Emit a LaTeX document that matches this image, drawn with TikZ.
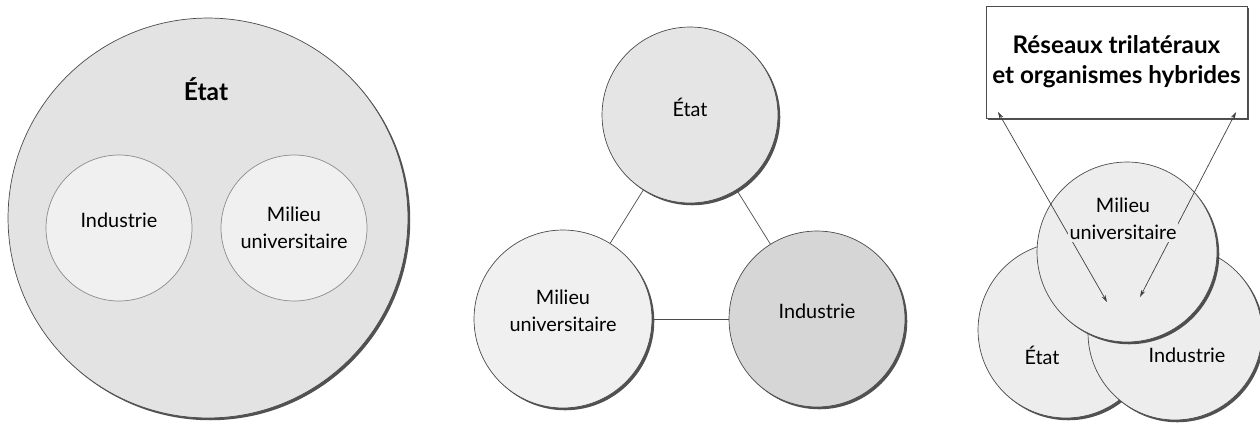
\documentclass[tikz,border=0pt]{standalone}
\usepackage{fontspec}
\setmainfont{Lato}
\usetikzlibrary{shadows,arrows.meta}
\tikzset{
  sphere/.style={circle, draw=black!70, inner sep=0pt, align=center,
    font=\fontsize{11.3}{15.5}\selectfont,
    drop shadow={shadow xshift=1.3pt, shadow yshift=-1.3pt, fill=black!80, opacity=.85}},
  inner/.style={circle, draw=black!45, fill=black!6, inner sep=0pt, align=center,
    font=\fontsize{11.3}{15.5}\selectfont},
  raised/.style={text depth=0.32cm},
  txt/.style={align=center, inner sep=1pt, font=\fontsize{11.3}{15.5}\selectfont},
  link/.style={<->, >={Stealth[length=4pt,width=2.4pt]}, black!75}
}
\begin{document}
\begin{tikzpicture}[x=0.02cm, y=-0.02cm]
  \useasboundingbox (0,0) rectangle (1260,423);

  \node[sphere, fill=black!11, minimum size=8cm] (etat1) at (208,218) {};
  \node[font=\bfseries\fontsize{14}{17}\selectfont] (etat1lbl) at (206,89) {État};
  \node[inner, raised, minimum size=2.92cm] (ind1) at (119,228) {Industrie};
  \node[inner, minimum size=2.92cm] (mil1) at (294,228) {Milieu\\universitaire};

  \node[sphere, raised, fill=black!10, minimum size=3.52cm] (etat2) at (690,115) {État};
  \node[sphere, raised, fill=black!6, minimum size=3.56cm] (mil2) at (563,319) {Milieu\\universitaire};
  \node[sphere, raised, fill=black!16, minimum size=3.52cm] (ind2) at (817,319) {Industrie};
  \draw[black!70] (etat2) -- (mil2);
  \draw[black!70] (etat2) -- (ind2);
  \draw[black!70] (mil2) -- (ind2);

  \node[sphere, draw=black!70, fill=white, rectangle, minimum width=5.22cm, minimum height=2.24cm,
    font=\bfseries\fontsize{13.8}{17}\selectfont] (reseaux) at (1116.5,62) {Réseaux trilatéraux\\et organismes hybrides};
  \node[sphere, fill=black!7, minimum size=3.52cm] (etat3) at (1066,330) {};
  \node[sphere, fill=black!7, minimum size=3.48cm] (ind3) at (1175,333) {};
  \node[sphere, fill=black!7, minimum size=3.6cm] (mil3) at (1127,252) {};
  \coordinate (r1) at (998,112);
  \coordinate (r2) at (1236,112);
  \coordinate (h1) at (1107,302);
  \coordinate (h2) at (1140,297);
  \draw[link] (r1) -- (h1);
  \draw[link] (r2) -- (h2);
  \node[txt, fill=black!7] (mil3lbl) at (1123,219) {Milieu\\universitaire};
  \node[txt] (etat3lbl) at (1042,355) {État};
  \node[txt] (ind3lbl) at (1187,355) {Industrie};
\end{tikzpicture}
\end{document}
